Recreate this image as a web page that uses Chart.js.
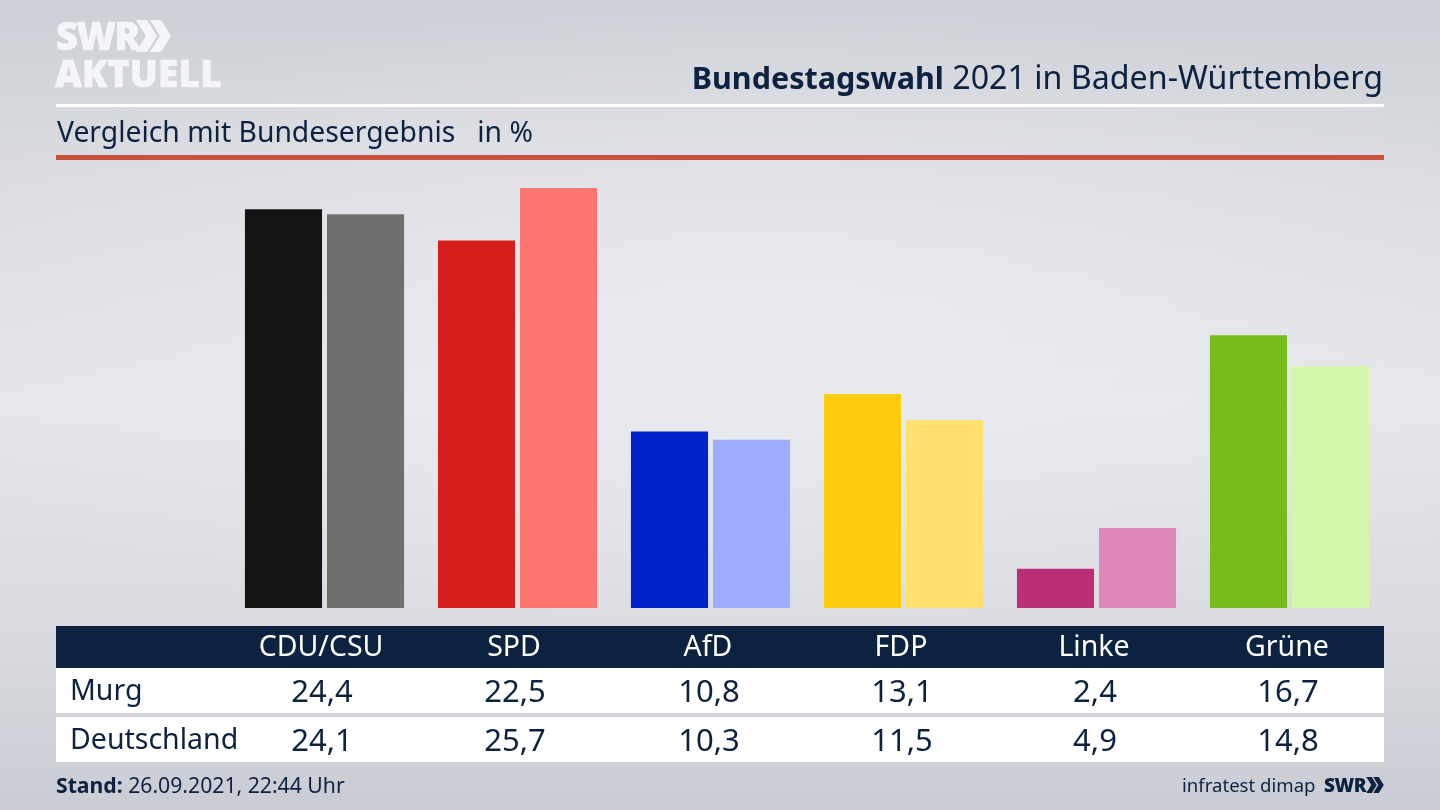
<!DOCTYPE html>
<html lang="de">
<head>
<meta charset="utf-8">
<title>Bundestagswahl 2021 in Baden-Württemberg</title>
<script src="https://cdn.jsdelivr.net/npm/chart.js@4"></script>
<style>
    html, body { margin: 0; padding: 0; }
    body {
        width: 1440px; height: 810px; overflow: hidden; position: relative;
        font-family: "Noto Sans", sans-serif; color: #0c2240;
        background:
            radial-gradient(ellipse 900px 330px at 760px 330px, rgba(236,237,242,0.75), rgba(236,237,242,0) 100%),
            linear-gradient(180deg, #cdd0d6 0%, #dadce1 22%, #e5e6eb 50%, #d8dadf 80%, #c9ccd3 100%);
    }
    #chartBox { position: absolute; left: 0; top: 0; width: 1440px; height: 810px; }
    .abs { position: absolute; white-space: nowrap; }
    .logo { color: #f4f5f7; font-weight: 900; font-family: "Open Sans", sans-serif; -webkit-text-stroke: 0.6px #f4f5f7; }
    .rule { position: absolute; left: 56px; width: 1328px; }
    .band { position: absolute; left: 56px; width: 1328px; }
    .cell { position: absolute; transform: translateX(-50%); white-space: nowrap; font-size: 28.5px; line-height: 45px; }
    .cell.num { font-size: 31px; }
</style>
</head>
<body>
<div id="chartBox"><canvas id="resultChart" width="1440" height="810"></canvas></div>

<div class="abs logo" style="left:56px;top:11px;font-size:38px;line-height:48px;letter-spacing:-1.5px;">SWR</div>
<svg class="abs" style="left:136px;top:20px" width="35" height="32" viewBox="0 0 35 32">
    <path d="M0 0h11l10 16-10 16h-11l10-16zM14 0h11l10 16-10 16h-11l10-16z" fill="#f4f5f7"/>
</svg>
<div class="abs logo" style="left:55px;top:49px;font-size:37px;line-height:48px;letter-spacing:0.2px;">AKTUELL</div>

<div class="abs" style="right:57px;top:56px;font-size:32.2px;line-height:42px;"><b style="font-size:30.5px">Bundestagswahl</b> 2021 in Baden-Württemberg</div>
<div class="rule" style="top:104px;height:3px;background:#fff;"></div>
<div class="abs" style="left:57px;top:112px;font-size:28.3px;line-height:38px;">Vergleich mit Bundesergebnis &nbsp; in %</div>
<div class="rule" style="top:155px;height:5px;background:#c8503c;"></div>

<div class="band" style="top:626px;height:42px;background:#0c2240;"></div>
<div class="band" style="top:668px;height:45px;background:#fff;"></div>
<div class="band" style="top:717px;height:45px;background:#fff;"></div>
<div id="tableCells"></div>

<div class="abs" style="left:56px;top:770px;font-size:21.2px;line-height:30px;"><b>Stand:</b> 26.09.2021, 22:44 Uhr</div>
<div class="abs" style="left:1182px;top:770px;font-size:18.6px;line-height:30px;">infratest dimap</div>
<div class="abs" style="left:1324px;top:770px;font-size:19px;line-height:30px;font-weight:900;font-family:'Open Sans',sans-serif;letter-spacing:-0.5px;">SWR</div>
<svg class="abs" style="left:1366px;top:777px" width="18" height="16" viewBox="0 0 35 32">
    <path d="M0 0h11l10 16-10 16h-11l10-16zM14 0h11l10 16-10 16h-11l10-16z" fill="#0c2240"/>
</svg>

<script>
// Ergebnisse
const parties = ['CDU/CSU', 'SPD', 'AfD', 'FDP', 'Linke', 'Grüne'];
const murgValues = [24.4, 22.5, 10.8, 13.1, 2.4, 16.7];
const deutschlandValues = [24.1, 25.7, 10.3, 11.5, 4.9, 14.8];
const murgColors = ['#141414', '#d71f1d', '#0021c7', '#ffcb0b', '#bb2f77', '#78bc1b'];
const deutschlandColors = ['#706f6d', '#ff7570', '#9fadff', '#ffe070', '#df88b7', '#d4f7a9'];

// Tabelle unter dem Diagramm
const columnCenters = [321, 514, 708, 901, 1094, 1287];
const cells = document.getElementById('tableCells');

function addCell(text, left, top, color, className) {
    const div = document.createElement('div');
    div.className = 'cell ' + className;
    div.textContent = text;
    div.style.left = left + 'px';
    div.style.top = top + 'px';
    div.style.color = color;
    if (className === 'label') div.style.transform = 'none';
    cells.appendChild(div);
}

const fmt = v => v.toFixed(1).replace('.', ',');
addCell('Murg', 70, 667, '#0c2240', 'label');
addCell('Deutschland', 70, 716, '#0c2240', 'label');
parties.forEach((party, i) => {
    addCell(party, columnCenters[i], 623, '#fff', 'head');
    addCell(fmt(murgValues[i]), columnCenters[i] + 1, 668, '#0c2240', 'num');
    addCell(fmt(deutschlandValues[i]), columnCenters[i] + 1, 717, '#0c2240', 'num');
});

// Diagramm
new Chart(document.getElementById('resultChart').getContext('2d'), {
    type: 'bar',
    data: {
        labels: parties,
        datasets: [
            { label: 'Murg', data: murgValues, backgroundColor: murgColors },
            { label: 'Deutschland', data: deutschlandValues, backgroundColor: deutschlandColors }
        ]
    },
    options: {
        responsive: false,
        animation: false,
        categoryPercentage: 0.85,
        barPercentage: 0.94,
        layout: { padding: { left: 228, right: 54, top: 160, bottom: 202 } },
        plugins: { legend: { display: false }, tooltip: { enabled: false } },
        scales: {
            x: { display: false },
            y: { display: false, min: 0, max: 27.42 }
        }
    }
});
</script>
</body>
</html>
